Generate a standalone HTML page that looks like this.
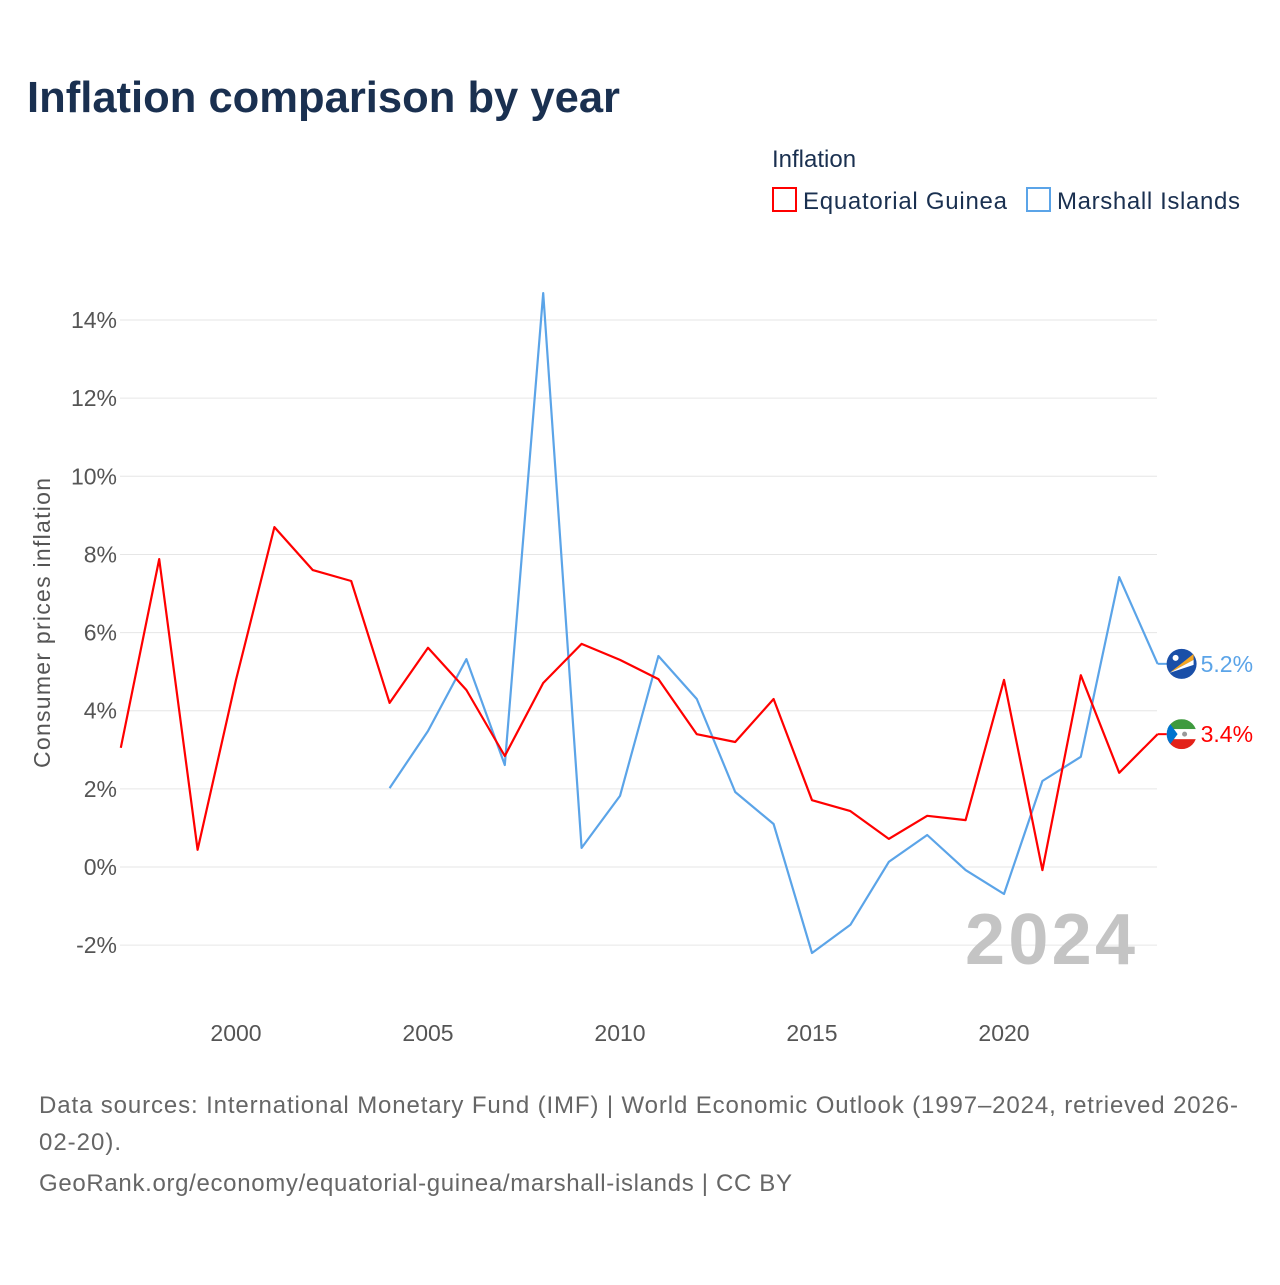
<!DOCTYPE html>
<html><head><meta charset="utf-8"><style>
body{margin:0;background:#fff;font-family:"Liberation Sans",sans-serif;}
svg text{font-family:"Liberation Sans",sans-serif;}
</style></head><body>
<svg id="chart" width="1280" height="1280" viewBox="0 0 1280 1280" xmlns="http://www.w3.org/2000/svg">
<rect width="1280" height="1280" fill="#fff"/>
<text x="27" y="112" font-size="44" font-weight="bold" fill="#1a3050" textLength="593" lengthAdjust="spacingAndGlyphs">Inflation comparison by year</text>
<text x="772" y="167" font-size="24" fill="#1a3050">Inflation</text>
<g>
<rect x="773" y="188" width="23" height="23" fill="none" stroke="#f00" stroke-width="2"/>
<text x="803" y="209" font-size="24" fill="#1a3050" textLength="204">Equatorial Guinea</text></g>
<g>
<rect x="1027" y="188" width="23" height="23" fill="none" stroke="#5ba4e8" stroke-width="2"/>
<text x="1057" y="209" font-size="24" fill="#1a3050" textLength="183">Marshall Islands</text></g>
<g id="grid"></g>
<g id="yticks"></g>
<g id="xticks"></g>
<text transform="translate(50,623) rotate(-90)" text-anchor="middle" font-size="23" fill="#555" textLength="290">Consumer prices inflation</text>
<text x="965" y="964" font-size="72" font-weight="bold" fill="#c4c4c4" textLength="170">2024</text>
<g id="series"></g>
<text font-size="24" fill="#666"><tspan x="39" y="1113" textLength="1199">Data sources: International Monetary Fund (IMF) | World Economic Outlook (1997–2024, retrieved 2026-</tspan><tspan x="39" y="1150" textLength="82">02-20).</tspan><tspan x="39" y="1191" textLength="753">GeoRank.org/economy/equatorial-guinea/marshall-islands | CC BY</tspan></text>
</svg>
<script>
const years=[1997,1998,1999,2000,2001,2002,2003,2004,2005,2006,2007,2008,2009,2010,2011,2012,2013,2014,2015,2016,2017,2018,2019,2020,2021,2022,2023,2024];
const eqGuinea=[3.05,7.88,0.44,4.79,8.70,7.60,7.32,4.20,5.61,4.53,2.84,4.71,5.71,5.30,4.81,3.40,3.20,4.30,1.71,1.43,0.72,1.31,1.20,4.79,-0.08,4.91,2.41,3.4];
const marshall=[null,null,null,null,null,null,null,2.02,3.48,5.32,2.61,14.69,0.49,1.82,5.40,4.30,1.92,1.10,-2.20,-1.48,0.13,0.82,-0.08,-0.69,2.20,2.82,7.42,5.2];
const yTicks=[-2,0,2,4,6,8,10,12,14];
const xTicks=[2000,2005,2010,2015,2020];
const NS="http://www.w3.org/2000/svg";
const X=v=>120.8+(v-1997)*38.4;
const Y=v=>867-v*39.07;
function mk(tag,attrs,parent){const e=document.createElementNS(NS,tag);for(const k in attrs)e.setAttribute(k,attrs[k]);parent.appendChild(e);return e;}
const grid=document.getElementById('grid'),yt=document.getElementById('yticks'),xt=document.getElementById('xticks'),ser=document.getElementById('series');
yTicks.forEach(t=>{
 const l=mk('line',{x1:120,x2:1157,y1:Y(t),y2:Y(t),stroke:'#e6e6e6','stroke-width':1},grid);
 
 
 const tx=mk('text',{x:117,y:Y(t)+8,'text-anchor':'end','font-size':23,fill:'#555'},yt);
 tx.textContent=t+'%';
 
 
});
xTicks.forEach(t=>{
 const tx=mk('text',{x:X(t),y:1041,'text-anchor':'middle','font-size':23,fill:'#555'},xt);
 tx.textContent=t;
 
 
});
function line(vals,color,name){
 let d='',pen=false;
 vals.forEach((v,i)=>{if(v===null){pen=false;return;}d+=(pen?'L':'M')+X(years[i]).toFixed(1)+','+Y(v).toFixed(1);pen=true;});
 const p=mk('path',{d:d,fill:'none',stroke:color,'stroke-width':2.2,'stroke-linejoin':'round'},ser);
 
 
}
line(marshall,'#5ba4e8','line-marshall-islands');
line(eqGuinea,'#f00','line-equatorial-guinea');
function endLabel(vals,color,name,flag){
 const v=vals[vals.length-1],y=Y(v),x=X(2024);
 mk('line',{x1:x,x2:x+10,y1:y,y2:y,stroke:color,'stroke-width':2},ser);
 const g=mk('g',{},ser);
 
 
 flag(g,x+24,y);
 const t=mk('text',{x:x+43,y:y+8,'font-size':23,fill:color},ser);
 t.textContent=v.toFixed(1)+'%';
 
 
}
endLabel(marshall,'#5ba4e8','marshall-islands',(g,cx,cy)=>{
 mk('circle',{cx:cx,cy:cy,r:15,fill:'#1a4fa8'},g);
 mk('path',{d:`M${cx-12},${cy+9} L${cx+12},${cy-10} L${cx+12},${cy-4} Z`,fill:'#f5a623'},g);
 mk('path',{d:`M${cx-12},${cy+9} L${cx+12},${cy-4} L${cx+12},${cy+1} Z`,fill:'#fff'},g);
 mk('circle',{cx:cx-6,cy:cy-6,r:3,fill:'#fff'},g);
});
endLabel(eqGuinea,'#f00','equatorial-guinea',(g,cx,cy)=>{
 const cp=mk('clipPath',{id:'cf'},g);
 mk('circle',{cx:cx,cy:cy,r:15},cp);
 const gg=mk('g',{'clip-path':'url(#cf)'},g);
 mk('rect',{x:cx-15,y:cy-15,width:30,height:10,fill:'#3e9a3e'},gg);
 mk('rect',{x:cx-15,y:cy-5,width:30,height:10,fill:'#fff'},gg);
 mk('rect',{x:cx-15,y:cy+5,width:30,height:10,fill:'#e32118'},gg);
 mk('path',{d:`M${cx-15},${cy-15} L${cx-4},${cy} L${cx-15},${cy+15} Z`,fill:'#0073ce'},gg);
 mk('circle',{cx:cx+3,cy:cy,r:2.5,fill:'#999'},gg);
});
</script>
</body></html>
